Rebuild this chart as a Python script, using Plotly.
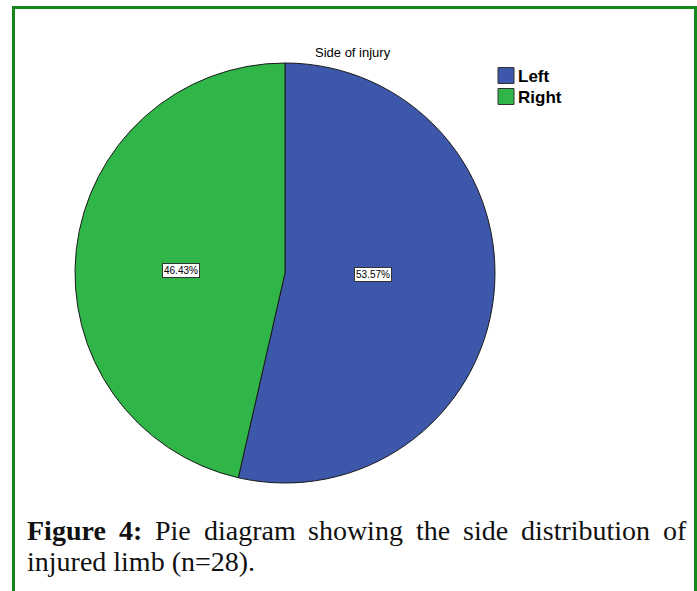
import math
import plotly.graph_objects as go

labels = ["Left", "Right"]
values = [53.57, 46.43]
colors = ["#3d57aa", "#2fb548"]

W, H = 697, 591
cx, cy, r = 285, 273, 210
LABEL_R = [0.424, 0.498]   # radial placement of % boxes (fraction of radius)
LABEL_VSQUASH = 0.2        # SPSS keeps labels near the horizontal


def px(x):
    return x / W


def py(y):
    return 1 - y / H


fig = go.Figure()
fig.add_trace(go.Pie(
    labels=labels, values=values, sort=False, direction="clockwise", rotation=0,
    marker=dict(colors=colors, line=dict(color="#1a1a1a", width=1)),
    textinfo="none", hoverinfo="label+percent", showlegend=False,
    domain=dict(x=[px(cx - r), px(cx + r)], y=[py(cy + r), py(cy - r)]),
))

annotations = []
shapes = []

# percentage labels in boxes, placed from slice mid-angles
total = sum(values)
cum = 0
for lab, v, f in zip(labels, values, LABEL_R):
    mid = (cum + v / 2) / total * 2 * math.pi
    cum += v
    lx = cx + f * r * math.sin(mid)
    ly = cy - f * r * math.cos(mid) * LABEL_VSQUASH
    annotations.append(dict(
        x=px(lx), y=py(ly), xref="paper", yref="paper", showarrow=False,
        xanchor="center", yanchor="middle",
        text=f"{v:.2f}%", font=dict(family="Arial, Liberation Sans", size=10, color="#000"),
        bgcolor="white", bordercolor="#333", borderwidth=1, borderpad=1,
    ))

# title
annotations.append(dict(
    x=px(353), y=py(52), xref="paper", yref="paper", showarrow=False,
    xanchor="center", yanchor="middle",
    text="Side of injury", font=dict(family="Arial, Liberation Sans", size=13, color="#000"),
))

# custom legend (square swatches with border)
leg_x, leg_y0, leg_dy, sw = 498, 75.5, 21, 16
for i, (lab, c) in enumerate(zip(labels, colors)):
    yc = leg_y0 + i * leg_dy
    shapes.append(dict(type="rect", xref="paper", yref="paper",
                       x0=px(leg_x), x1=px(leg_x + sw), y0=py(yc + sw / 2), y1=py(yc - sw / 2),
                       fillcolor=c, line=dict(color="#333", width=1)))
    annotations.append(dict(
        x=px(leg_x + sw + 2), y=py(yc + 1), xref="paper", yref="paper", showarrow=False,
        xanchor="left", yanchor="middle",
        text=f"<b>{lab}</b>", font=dict(family="Arial, Liberation Sans", size=17, color="#000"),
    ))

# caption, first line fully justified using Times/Liberation Serif advance widths
CAP_SIZE = 28
cap_font = dict(family="Liberation Serif, Times New Roman, serif", size=CAP_SIZE, color="#111")
REG = dict(a=444, b=500, c=444, d=500, e=444, f=333, g=500, h=500, i=278, j=278, k=500,
           l=278, m=778, n=500, o=500, p=500, q=500, r=333, s=389, t=278, u=500, v=500,
           w=722, x=500, y=500, z=444, P=556)
BOLD = {"F": 611, "i": 278, "g": 500, "u": 556, "r": 444, "e": 444, "4": 500, ":": 333}


def width(word, bold):
    tab = BOLD if bold else REG
    return sum(tab.get(ch, 500) for ch in word) * CAP_SIZE / 1000


line1 = [("Figure", True), ("4:", True), ("Pie", False), ("diagram", False),
         ("showing", False), ("the", False), ("side", False), ("distribution", False),
         ("of", False)]
left, right, y1, y2 = 25, 684, 530, 561
widths = [width(w, b) for w, b in line1]
gap = (right - left - sum(widths)) / (len(line1) - 1)
x = left
for (w, b), wd in zip(line1, widths):
    annotations.append(dict(x=px(x), y=py(y1), xref="paper", yref="paper", showarrow=False,
                            xanchor="left", yanchor="middle",
                            text=f"<b>{w}</b>" if b else w, font=cap_font))
    x += wd + gap
annotations.append(dict(x=px(left), y=py(y2), xref="paper", yref="paper", showarrow=False,
                        xanchor="left", yanchor="middle", text="injured limb (n=28).", font=cap_font))

# green frame
shapes.append(dict(type="rect", xref="paper", yref="paper",
                   x0=px(13.5), x1=px(695.5), y0=-0.05, y1=py(7.5),
                   line=dict(color="#15861a", width=3)))

fig.update_layout(
    width=W, height=H, margin=dict(l=0, r=0, t=0, b=0),
    paper_bgcolor="white", plot_bgcolor="white",
    showlegend=False,
    annotations=annotations,
    shapes=shapes,
)

fig.write_html("out.html")
